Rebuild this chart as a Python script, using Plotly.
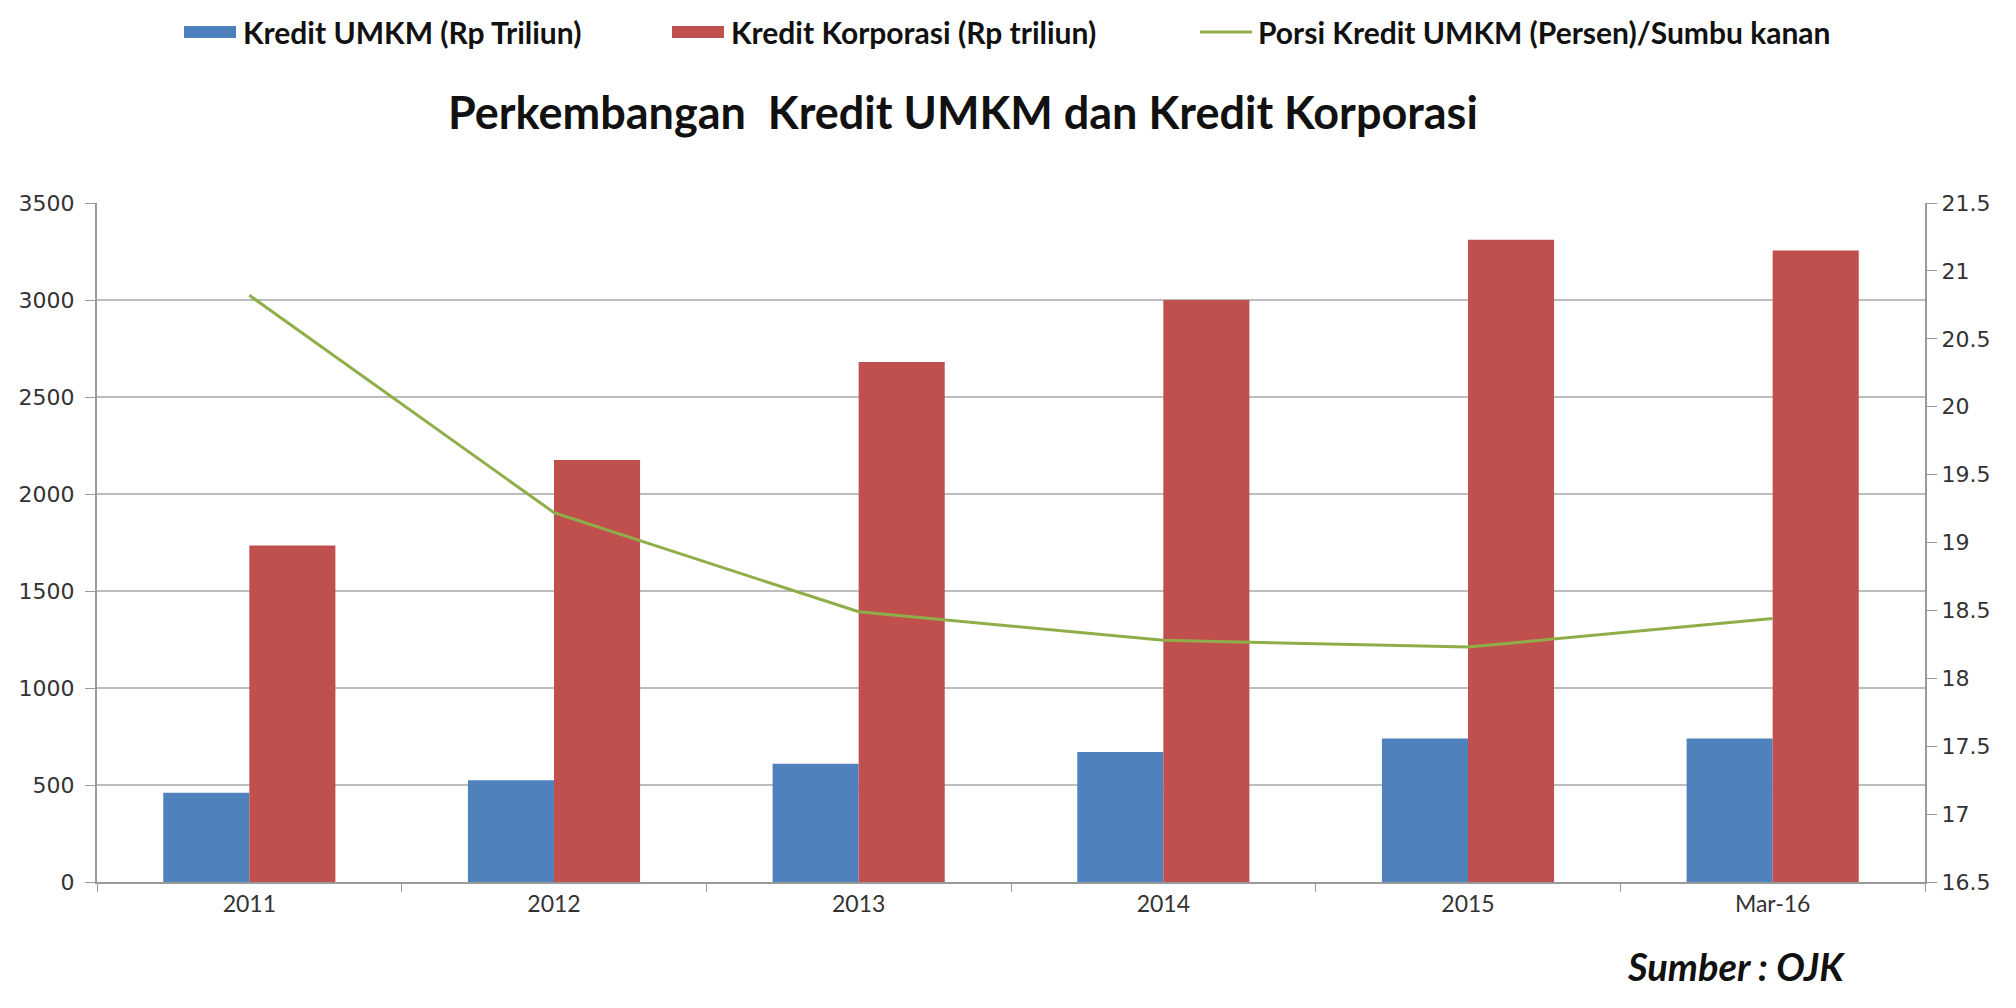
import plotly.graph_objects as go

categories = ["2011", "2012", "2013", "2014", "2015", "Mar-16"]
kredit_umkm = [460, 525, 610, 670, 740, 740]
kredit_korporasi = [1735, 2175, 2680, 3000, 3310, 3255]
porsi_umkm = [20.82, 19.22, 18.49, 18.28, 18.23, 18.44]

left_ticks = [0, 500, 1000, 1500, 2000, 2500, 3000, 3500]
right_ticks = [16.5, 17, 17.5, 18, 18.5, 19, 19.5, 20, 20.5, 21, 21.5]

names = ["Kredit UMKM (Rp Triliun)", "Kredit Korporasi (Rp triliun)",
         "Porsi Kredit UMKM (Persen)/Sumbu kanan"]
colors = ["#4F81BD", "#C0504D", "#8FAE4A"]

# page body has an 8px margin, so the figure is drawn at (8, 8) in the window
OFF = 8
W, H = 2016 - 2 * OFF, 1008 - 2 * OFF
# plot area in window (screenshot) pixels
S_l, S_r, S_t, S_b = 97, 1925, 203, 882
plot_l, plot_r, plot_t, plot_b = S_l - OFF, S_r - OFF, S_t - OFF, S_b - OFF

def px(xs, ys):
    xp, yp = xs - OFF, ys - OFF
    return (xp - plot_l) / (plot_r - plot_l), (plot_b - yp) / (plot_b - plot_t)

fig = go.Figure()
fig.add_trace(go.Bar(x=categories, y=kredit_umkm, name=names[0],
                     marker=dict(color=colors[0], line=dict(width=0))))
fig.add_trace(go.Bar(x=categories, y=kredit_korporasi, name=names[1],
                     marker=dict(color=colors[1], line=dict(width=0))))
fig.add_trace(go.Scatter(x=categories, y=porsi_umkm, name=names[2], mode="lines",
                         line=dict(color=colors[2], width=3), yaxis="y2"))

tickfont = dict(family="DejaVu Sans", size=22, color="#333333")

# custom legend (wide swatches as in the reference)
shapes = []
annotations = []
legend_y = 32
items = [(184, 236, 241, "rect"), (672, 724, 729, "rect"), (1200, 1252, 1256, "line")]
for (x0, x1, xt, kind), name, col in zip(items, names, colors):
    a0, b0 = px(x0, legend_y - 6)
    a1, b1 = px(x1, legend_y + 6)
    if kind == "rect":
        shapes.append(dict(type="rect", xref="paper", yref="paper", x0=a0, x1=a1, y0=b1, y1=b0,
                           fillcolor=col, line=dict(width=0)))
    else:
        _, bm = px(x0, legend_y)
        shapes.append(dict(type="line", xref="paper", yref="paper", x0=a0, x1=a1, y0=bm, y1=bm,
                           line=dict(color=col, width=3)))
    tx, ty = px(xt, legend_y)
    annotations.append(dict(text="<b>" + name + "</b>", x=tx, y=ty, xref="paper", yref="paper",
                            xanchor="left", yanchor="middle", showarrow=False,
                            font=dict(family="Lato", size=30, color="#111111")))

tx, ty = px(963, 112)
annotations.append(dict(text="<b>Perkembangan  Kredit UMKM dan Kredit Korporasi</b>", x=tx, y=ty,
                        xref="paper", yref="paper", xanchor="center", yanchor="middle", showarrow=False,
                        font=dict(family="Lato", size=45, color="#111111")))
tx, ty = px(1736, 966)
annotations.append(dict(text="<b><i>Sumber : OJK</i></b>", x=tx, y=ty, xref="paper", yref="paper",
                        xanchor="center", yanchor="middle", showarrow=False,
                        font=dict(family="Lato", size=38, color="#111111")))

fig.update_layout(
    width=W, height=H,
    paper_bgcolor="white", plot_bgcolor="white",
    margin=dict(l=plot_l, r=W - plot_r, t=plot_t, b=H - plot_b),
    barmode="group", bargap=0.435, bargroupgap=0,
    showlegend=False,
    xaxis=dict(type="category", showgrid=False, showline=True, linecolor="#9a9a9a", linewidth=2,
               ticks="outside", tickson="boundaries", ticklen=8, tickcolor="#9a9a9a",
               tickfont=dict(family="Lato", size=23, color="#333333")),
    yaxis=dict(range=[0, 3500], tickvals=left_ticks, showgrid=True, gridcolor="#bdbdbd", gridwidth=2,
               showline=True, linecolor="#9a9a9a", linewidth=2, ticks="outside", ticklen=10,
               tickcolor="#9a9a9a", tickfont=tickfont, zeroline=False, ticklabelstandoff=6),
    yaxis2=dict(range=[16.5, 21.5], tickvals=right_ticks, overlaying="y", side="right", showgrid=False,
                showline=True, linecolor="#9a9a9a", linewidth=2, ticks="outside", ticklen=10,
                tickcolor="#9a9a9a", tickfont=tickfont, zeroline=False),
    shapes=shapes,
    annotations=annotations,
)

fig.write_html("out.html")
